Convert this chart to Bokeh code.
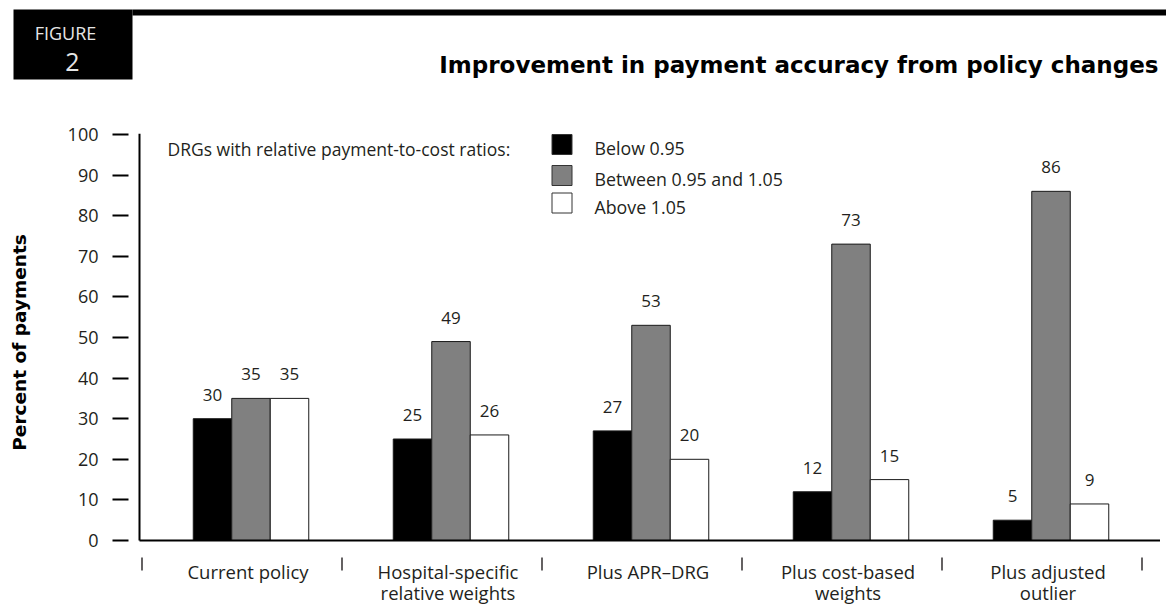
from bokeh.plotting import figure
from bokeh.layouts import column
from bokeh.models import Range1d, FixedTicker
from bokeh.core.properties import value
from bokeh.embed import file_html
from bokeh.resources import INLINE

# ---------------- data ----------------
categories = ["Current policy", "Hospital-specific\nrelative weights", "Plus APR\u2013DRG",
              "Plus cost-based\nweights", "Plus adjusted\noutlier"]
series_names = ["Below 0.95", "Between 0.95 and 1.05", "Above 1.05"]
below = [30, 25, 27, 12, 5]
between = [35, 49, 53, 73, 86]
above = [35, 26, 20, 15, 9]
y_ticks = [0, 10, 20, 30, 40, 50, 60, 70, 80, 90, 100]
legend_heading = "DRGs with relative payment-to-cost ratios:"
title_text = "Improvement in payment accuracy from policy changes"
y_label = "Percent of payments"
figure_tag = ["FIGURE", "2"]

# ---------------- styles ----------------
colors = ["#000000", "#808080", "#ffffff"]
TXT = "#231f20"
BODY_FONT = "Open Sans"
BOLD_FONT = "DejaVu Sans"
W = 1160
HW = 1166

# pixel geometry helpers (canvas px -> data)
PX_X, X_ORG = 200.0, 141.5
PX_Y, Y_ORG = 4.06, 540.0
def dx(X):
    return (X - X_ORG) / PX_X
def dy(Y):
    return (Y_ORG - Y) / PX_Y

# ---------------- header ----------------
HEAD_H = 80
h = figure(width=HW, height=HEAD_H, x_range=Range1d(0, HW), y_range=Range1d(HEAD_H, 0),
           x_axis_type=None, y_axis_type=None, toolbar_location=None,
           output_backend="svg", min_border=0)
h.frame_align = False
h.outline_line_color = None
h.grid.grid_line_color = None
h.quad(left=[13], right=[132], top=[9], bottom=[79], fill_color="black", line_color=None)
h.quad(left=[132], right=[HW], top=[9], bottom=[15], fill_color="black", line_color=None)
h.text(x=[65], y=[32.5], text=[figure_tag[0]], text_align="center", text_baseline="middle",
       text_font=value(BODY_FONT), text_font_size="18px", text_color="#e6e6e6")
h.text(x=[72], y=[61], text=[figure_tag[1]], text_align="center", text_baseline="middle",
       text_font=value(BODY_FONT), text_font_size="25px", text_color="#e6e6e6")
h.text(x=[1158], y=[64], text=[title_text], text_align="right", text_baseline="middle",
       text_font=value(BOLD_FONT), text_font_style="bold", text_font_size="23px", text_color="black")

# ---------------- main chart ----------------
TOP, BOTTOM, LEFT = HEAD_H, 604, 128
p = figure(width=W, height=BOTTOM - TOP,
           x_range=Range1d(dx(LEFT), dx(W)), y_range=Range1d(dy(BOTTOM), dy(TOP)),
           x_axis_type=None, toolbar_location=None, output_backend="svg",
           min_border_left=LEFT, min_border_right=0, min_border_top=0, min_border_bottom=0)
p.frame_align = False
p.outline_line_color = None
p.grid.grid_line_color = None

n = len(categories)
BAR_W = 38.5 / PX_X
CENTER_SHIFT = 0.545
LABEL_SHIFT = 0.53
centers = [i + CENTER_SHIFT for i in range(n)]

for k, (vals, col) in enumerate(zip([below, between, above], colors)):
    xs = [c + (k - 1) * BAR_W for c in centers]
    p.vbar(x=xs, top=vals, bottom=0, width=BAR_W, fill_color=col,
           line_color="#1a1a1a", line_width=1)
    p.text(x=xs, y=vals, text=[str(v) for v in vals], text_align="center",
           text_baseline="alphabetic", y_offset=-24, text_font=value(BODY_FONT),
           text_font_size="17px", text_color=TXT)

# axis lines
p.segment(x0=[dx(139)], y0=[0], x1=[dx(W)], y1=[0], line_color="black", line_width=2)
p.segment(x0=[dx(139)], y0=[0], x1=[dx(139)], y1=[y_ticks[-1] + 0.2], line_color="black", line_width=2)

# group separators
bounds = list(range(n + 1))
p.segment(x0=bounds, y0=[dy(557)] * len(bounds), x1=bounds, y1=[dy(570)] * len(bounds),
          line_color=TXT, line_width=1.4)

# category labels (two lines where needed)
lab_x = [i + LABEL_SHIFT for i in range(n)]
line1 = [c.split("\n")[0] for c in categories]
line2 = [c.split("\n")[1] if "\n" in c else "" for c in categories]
p.text(x=lab_x, y=[dy(571)] * n, text=line1, text_align="center", text_baseline="middle",
       text_font=value(BODY_FONT), text_font_size="18.5px", text_color=TXT)
p.text(x=lab_x, y=[dy(592)] * n, text=line2, text_align="center", text_baseline="middle",
       text_font=value(BODY_FONT), text_font_size="18.5px", text_color=TXT)

# legend
p.text(x=[dx(167)], y=[dy(148)], text=[legend_heading], text_align="left", text_baseline="middle",
       text_font=value(BODY_FONT), text_font_size="17.5px", text_color=TXT)
leg_mid = [147.5, 178.5, 206]
p.rect(x=[dx(561.5)] * 3, y=[dy(m - 3.5) for m in leg_mid], width=20, height=20,
       width_units="screen", height_units="screen", fill_color=colors, line_color="#333333", line_width=1)
p.text(x=[dx(594)] * 3, y=[dy(m) for m in leg_mid], text=series_names, text_align="left",
       text_baseline="middle", text_font=value(BODY_FONT), text_font_size="17.8px", text_color=TXT)

# y axis
ya = p.yaxis[0]
ya.ticker = FixedTicker(ticks=y_ticks)
ya.axis_line_color = None
ya.major_tick_out = 16
ya.major_tick_in = 0
ya.major_tick_line_width = 2
ya.major_tick_line_color = "black"
ya.minor_tick_line_color = None
ya.major_label_standoff = 14
ya.major_label_text_font = BODY_FONT
ya.major_label_text_font_size = "18px"
ya.major_label_text_color = TXT
ya.axis_label = y_label
ya.axis_label_text_font = BOLD_FONT
ya.axis_label_text_font_style = "bold"
ya.axis_label_text_font_size = "18.5px"
ya.axis_label_text_color = "black"
ya.axis_label_standoff = 35

layout = column(h, p, spacing=0)
open("out.html", "w").write(file_html(layout, INLINE))
